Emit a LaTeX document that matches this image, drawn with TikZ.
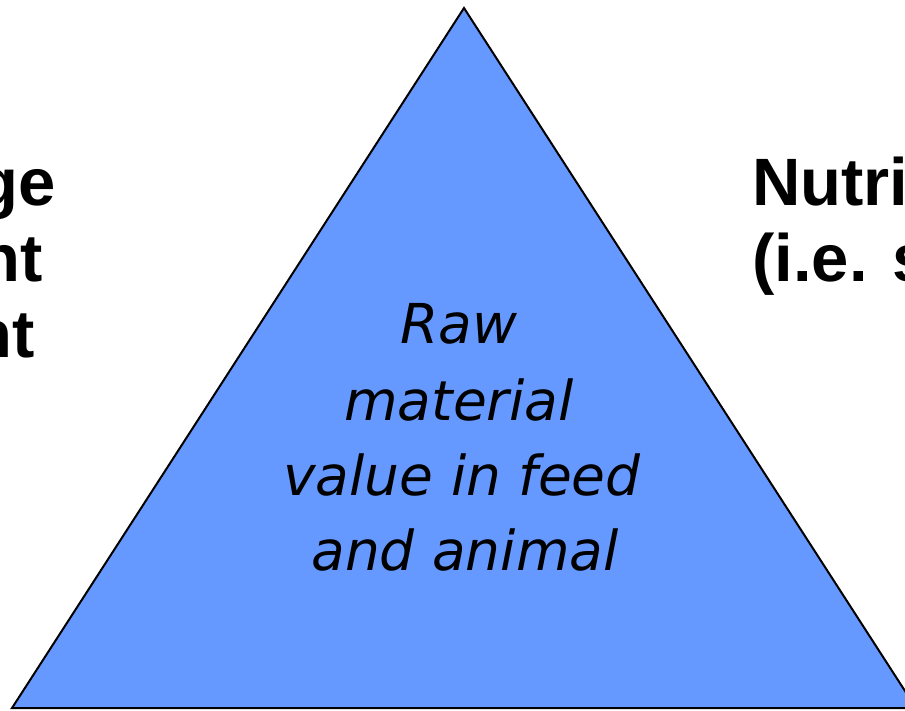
\documentclass[tikz,border=0pt]{standalone}
\usepackage{fontspec}
\setmainfont{Liberation Sans}
\newfontfamily\coresans{DejaVu Sans}
\usetikzlibrary{positioning,calc}
\definecolor{pyrblue}{RGB}{102,153,255}
\tikzset{line/.style={line width=2pt, line join=miter},
side/.style={inner sep=0pt, font=\bfseries\fontsize{67}{76}\selectfont},
core/.style={inner sep=0pt, font=\coresans\itshape\fontsize{55}{76}\selectfont}}

\begin{document}
\begin{tikzpicture}[x=1pt,y=-1pt]
% Page frame
\useasboundingbox (0,0) rectangle (905,710);
\clip (0,0) rectangle (905,710);
% Triangle corners
\coordinate (apex) at (464,8);
\coordinate (baseL) at (12,708);
\coordinate (baseR) at (916,708);
\filldraw[line, fill=pyrblue] (apex) -- (baseL) -- (baseR) -- cycle;
% Inner text
\node[core, anchor=base] (raw) at (459,343) {Raw};
\node[core, anchor=base] (material) at (459,420) {material};
\node[core, anchor=base] (value) at (462,495) {value in feed};
\node[core, anchor=base] (animal) at (465,570) {and animal};
% Left labels
\node[side, anchor=base east] (leftA) at (56,205) {ge};
\node[side, anchor=base east] (leftB) at (43,281) {nt};
\node[side, anchor=base east] (leftC) at (35,357) {nt};
% Right labels
\node[side, anchor=base west] (rightA) at (752,205) {Nutri};
\node[side, anchor=base west] (rightB) at (752,281) {(i.e. s};
\end{tikzpicture}
\end{document}
